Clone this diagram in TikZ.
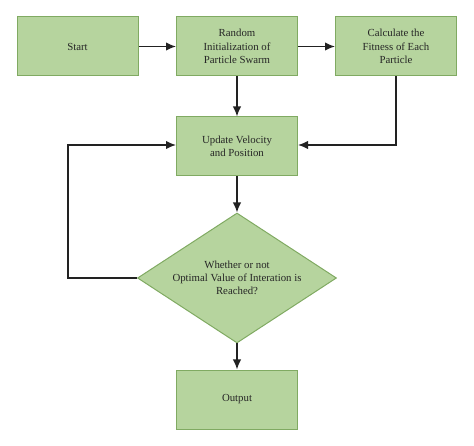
\documentclass[tikz,border=0pt]{standalone}
\usepackage{fontspec}
\setmainfont{Liberation Serif}
\usetikzlibrary{shapes.geometric,arrows.meta}
\definecolor{boxfill}{RGB}{182,212,158}
\definecolor{boxline}{RGB}{128,170,98}
\definecolor{arr}{RGB}{34,34,34}
\begin{document}
\begin{tikzpicture}[x=1pt,y=-1pt,
  box/.style={draw=boxline,fill=boxfill,line width=1pt,minimum width=121pt,minimum height=59pt,align=center,inner sep=2pt,font=\fontsize{10.8}{13.3}\selectfont,text=black!85},
  dia/.style={draw=boxline,fill=boxfill,line width=1pt,diamond,aspect=1.52,minimum width=199pt,minimum height=130pt,align=center,inner sep=0pt,font=\fontsize{10.8}{13.3}\selectfont,text=black!85},
  conn/.style={draw=arr,line width=1.5pt,-{Latex[length=10pt,width=8.5pt]}},
  line/.style={draw=arr,line width=1.5pt}]
\useasboundingbox (0,0) rectangle (474,446);
\node[box] (start) at (77.5,46.5) {Start};
\node[box] (init) at (237,46.5) {Random\\Initialization of\\Particle Swarm};
\node[box] (fit) at (396,46.5) {Calculate the\\Fitness of Each\\Particle};
\node[box] (upd) at (237,146.5) {Update Velocity\\and Position};
\node[dia] (dec) at (237,278) {Whether or not\\Optimal Value of Interation is\\Reached?};
\node[box] (out) at (237,399.5) {Output};
\coordinate (c1) at (396,145);
\coordinate (c2) at (68,278);
\coordinate (c3) at (68,145);
\draw[conn] (start) -- (init);
\draw[conn] (init) -- (fit);
\draw[conn] (init) -- (upd);
\draw[conn] (fit.south) -- (c1) -- (upd.east |- c1);
\draw[conn] (upd) -- (dec.north);
\draw[conn] (dec.west) -- (c2) -- (c3) -- (upd.west |- c3);
\draw[conn] (dec.south) -- (out);
\end{tikzpicture}
\end{document}
